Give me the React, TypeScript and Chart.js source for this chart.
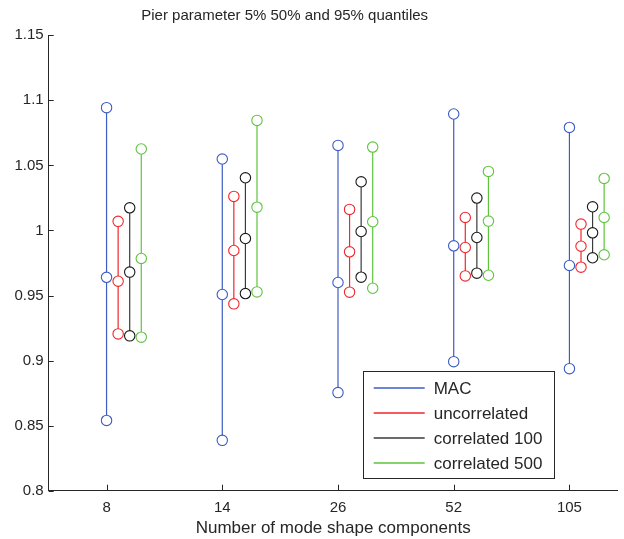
import React, { useEffect, useRef } from "react";
import { Chart, registerables } from "chart.js";

Chart.register(...registerables);

// Number of mode shape components (categories along the x axis)
const categories = ["8", "14", "26", "52", "105"];

// Series names and colours
const seriesNames = ["MAC", "uncorrelated", "correlated 100", "correlated 500"];
const seriesColors = ["#3d5cc4", "#f2262b", "#1a1a1a", "#5ec43e"];
const lineColors = ["#3d5cc4", "#f2262b", "#3a3a3a", "#5ec43e"];

// 5%, 50% and 95% quantiles for each series, one value per category
const macQ05 = [0.854, 0.8387, 0.8754, 0.8992, 0.8938];
const macQ50 = [0.964, 0.9508, 0.96, 0.9882, 0.9731];
const macQ95 = [1.0944, 1.0549, 1.0654, 1.0895, 1.0792];

const uncQ05 = [0.9205, 0.9436, 0.9526, 0.9651, 0.9718];
const uncQ50 = [0.961, 0.9846, 0.9836, 0.9869, 0.9879];
const uncQ95 = [1.007, 1.0262, 1.0162, 1.01, 1.0049];

const c100Q05 = [0.919, 0.9515, 0.9641, 0.9672, 0.979];
const c100Q50 = [0.968, 0.9938, 0.9992, 0.9946, 0.9982];
const c100Q95 = [1.0174, 1.0405, 1.0374, 1.0249, 1.0182];

const c500Q05 = [0.918, 0.9528, 0.9556, 0.9656, 0.9813];
const c500Q50 = [0.9785, 1.0179, 1.0067, 1.0072, 1.01];
const c500Q95 = [1.0626, 1.0846, 1.0641, 1.0454, 1.04];

const seriesQuantiles = [
  [macQ05, macQ50, macQ95],
  [uncQ05, uncQ50, uncQ95],
  [c100Q05, c100Q50, c100Q95],
  [c500Q05, c500Q50, c500Q95],
];

// Horizontal shift of each series inside a category group
const seriesOffsets = [0, 0.1, 0.2, 0.3];

const yTicks = [0.8, 0.85, 0.9, 0.95, 1, 1.05, 1.1, 1.15];

const titleText = "Pier parameter 5% 50% and 95% quantiles";
const xTitleText = "Number of mode shape components";

const AXIS_COLOR = "#262626";
const FONT = "Arial, 'Liberation Sans', Helvetica, sans-serif";

function buildPoints(s: number) {
  const [lo, mid, hi] = seriesQuantiles[s];
  const pts: { x: number; y: number | null }[] = [];
  categories.forEach((_, i) => {
    const x = i + 1 + seriesOffsets[s];
    pts.push({ x, y: lo[i] });
    pts.push({ x, y: mid[i] });
    pts.push({ x, y: hi[i] });
    pts.push({ x, y: null });
  });
  return pts;
}

// Plot title above the axes
const plotTitle = {
  id: "plotTitle",
  afterDraw(chart: any) {
    const { ctx, chartArea } = chart;
    ctx.save();
    ctx.font = `15px ${FONT}`;
    ctx.fillStyle = AXIS_COLOR;
    ctx.textAlign = "center";
    ctx.textBaseline = "middle";
    ctx.fillText(titleText, chartArea.left + 236, chartArea.top - 19.5);
    ctx.restore();
  },
};

// Inward tick marks on the left and bottom axes
const innerTicks = {
  id: "innerTicks",
  afterDraw(chart: any) {
    const { ctx, chartArea, scales } = chart;
    ctx.save();
    ctx.strokeStyle = AXIS_COLOR;
    ctx.lineWidth = 1;
    ctx.beginPath();
    yTicks.forEach((v) => {
      const y = Math.round(scales.y.getPixelForValue(v)) + 0.5;
      ctx.moveTo(chartArea.left, y);
      ctx.lineTo(chartArea.left + 5, y);
    });
    categories.forEach((_, i) => {
      const x = Math.round(scales.x.getPixelForValue(i + 1)) + 0.5;
      ctx.moveTo(x, chartArea.bottom);
      ctx.lineTo(x, chartArea.bottom - 6);
    });
    ctx.stroke();
    ctx.restore();
  },
};

// Boxed legend in the lower part of the plot
const boxLegend = {
  id: "boxLegend",
  afterDraw(chart: any) {
    const { ctx, chartArea } = chart;
    const x0 = chartArea.left + 314;
    const y0 = chartArea.bottom - 120;
    const w = 191;
    const h = 107;
    ctx.save();
    ctx.fillStyle = "#ffffff";
    ctx.fillRect(x0, y0, w, h);
    ctx.strokeStyle = AXIS_COLOR;
    ctx.lineWidth = 1;
    ctx.strokeRect(Math.round(x0) + 0.5, Math.round(y0) + 0.5, w, h);
    ctx.font = `17px ${FONT}`;
    ctx.textBaseline = "middle";
    ctx.textAlign = "left";
    seriesNames.forEach((name, i) => {
      const y = Math.round(y0 + 17 + i * 25);
      ctx.strokeStyle = lineColors[i];
      ctx.lineWidth = 1.3;
      ctx.beginPath();
      ctx.moveTo(x0 + 11, y);
      ctx.lineTo(x0 + 62, y);
      ctx.stroke();
      ctx.fillStyle = AXIS_COLOR;
      ctx.fillText(name, x0 + 71, y + 1);
    });
    ctx.restore();
  },
};

export default function App() {
  const canvasRef = useRef<HTMLCanvasElement | null>(null);

  useEffect(() => {
    const canvas = canvasRef.current;
    if (!canvas) return;
    const chart = new Chart(canvas, {
      type: "scatter",
      data: {
        datasets: seriesNames.map((name, s) => ({
          label: name,
          data: buildPoints(s),
          showLine: true,
          spanGaps: false,
          borderColor: lineColors[s],
          borderWidth: 1.2,
          pointStyle: "circle",
          pointRadius: 5.2,
          pointHoverRadius: 5.2,
          pointBorderWidth: 1.1,
          pointBorderColor: seriesColors[s],
          pointBackgroundColor: "#ffffff",
        })),
      },
      options: {
        responsive: false,
        animation: false,
        devicePixelRatio: 1,
        layout: { padding: { top: 35.3, left: 0, right: 0, bottom: 0 } },
        plugins: {
          legend: { display: false },
          tooltip: { enabled: false },
          title: { display: false },
        },
        scales: {
          x: {
            type: "linear",
            min: 0.5,
            max: 0.5 + (624 - 48.7) / 117,
            afterFit: (scale: any) => {
              scale.height = 48.3;
            },
            afterBuildTicks: (scale: any) => {
              scale.ticks = categories.map((_, i) => ({ value: i + 1 }));
            },
            ticks: {
              autoSkip: false,
              maxRotation: 0,
              padding: 8,
              color: AXIS_COLOR,
              font: { family: FONT, size: 15 },
              callback: (v: any) => categories[Number(v) - 1] ?? "",
            },
            grid: { display: false, drawTicks: false },
            border: { display: true, color: AXIS_COLOR, width: 1 },
            title: {
              display: true,
              text: xTitleText,
              color: AXIS_COLOR,
              font: { family: FONT, size: 17, lineHeight: 1.2 },
              padding: { top: 0, bottom: 0.8 },
            },
          },
          y: {
            type: "linear",
            min: 0.8,
            max: 1.15,
            afterFit: (scale: any) => {
              scale.width = 48.7;
            },
            afterBuildTicks: (scale: any) => {
              scale.ticks = yTicks.map((v) => ({ value: v }));
            },
            ticks: {
              padding: 5,
              color: AXIS_COLOR,
              font: { family: FONT, size: 15 },
              callback: (v: any) => String(parseFloat(Number(v).toFixed(2))),
            },
            grid: { display: false, drawTicks: false },
            border: { display: true, color: AXIS_COLOR, width: 1 },
          },
        },
      },
      plugins: [plotTitle, innerTicks, boxLegend],
    });
    return () => chart.destroy();
  }, []);

  return (
    <div
      style={{
        position: "absolute",
        left: 0,
        top: 0,
        width: 624,
        height: 539,
        background: "#ffffff",
      }}
    >
      <canvas ref={canvasRef} width={624} height={539} style={{ display: "block" }} />
    </div>
  );
}
